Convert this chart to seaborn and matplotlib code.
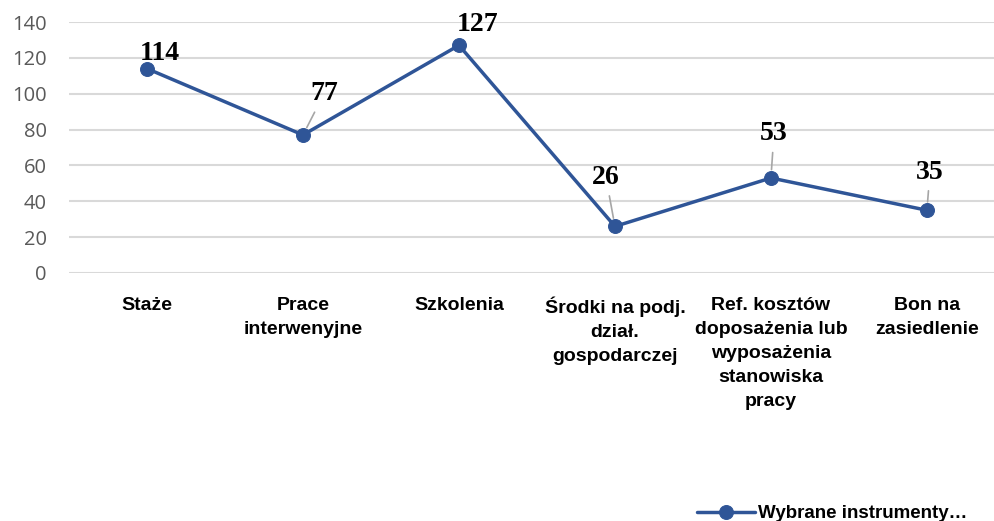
import matplotlib
matplotlib.use("Agg")
import matplotlib.pyplot as plt
import pandas as pd
import seaborn as sns

categories = [
    "Staże",
    "Prace\ninterwenyjne",
    "Szkolenia",
    "Środki na podj.\ndział.\ngospodarczej",
    "Ref. kosztów\ndoposażenia lub\nwyposażenia\nstanowiska\npracy",
    "Bon na\nzasiedlenie",
]
values = [114, 77, 127, 26, 53, 35]
series_name = "Wybrane instrumenty…"

# label offsets in pixels (dx, dy) and whether a leader line is drawn
label_offsets = [(13, 15), (21, 41), (19, 21), (-9, 49), (3, 44), (3, 38)]
leaders = [False, True, False, True, True, True]

line_color = "#2F5597"

sns.set_style("white")
plt.rcParams["font.family"] = ["Liberation Sans", "DejaVu Sans"]
plt.rcParams["text.color"] = "black"

df = pd.DataFrame({"x": range(len(categories)), "value": values, "series": series_name})

fig = plt.figure(figsize=(9.94, 5.21), dpi=100)
ax = fig.add_axes([69 / 994, 1 - 273 / 521, 1 - 69 / 994, (273 - 22) / 521])

sns.lineplot(data=df, x="x", y="value", hue="series", palette=[line_color],
             marker="o", markersize=10, linewidth=2.5, markeredgecolor=line_color,
             ax=ax, legend=True)

ax.set_ylim(0, 140)
ax.set_xlim(-0.5, 5.43)
ax.set_yticks(range(0, 141, 20))
ax.yaxis.grid(True, color="#d9d9d9", linewidth=1.5)
ax.set_axisbelow(True)
for s in ax.spines.values():
    s.set_visible(False)
ax.tick_params(axis="y", length=0, labelsize=14.5, labelcolor="#595959", pad=16)
ax.tick_params(axis="x", length=0, pad=17, labelcolor="black")
ax.set_xticks(range(len(categories)))
ax.set_xticklabels(categories, fontsize=14, fontweight="bold", va="top",
                   linespacing=1.55)
for lbl in ax.get_yticklabels():
    lbl.set_family(["Open Sans", "DejaVu Sans"])
ax.set_xlabel("")
ax.set_ylabel("")

for i, (v, (dx, dy), lead) in enumerate(zip(values, label_offsets, leaders)):
    arrow = dict(arrowstyle="-", color="#a6a6a6", lw=1.2, shrinkA=2, shrinkB=6) if lead else None
    ax.annotate(str(v), xy=(i, v), xytext=(dx, dy), textcoords="offset pixels",
                ha="center", va="center", fontsize=20, fontweight="bold", color="black",
                family=["Liberation Serif", "DejaVu Serif"], arrowprops=arrow)

handles, labels = ax.get_legend_handles_labels()
ax.legend(handles, labels, loc="lower right", bbox_to_anchor=(0.99, -0.035),
          bbox_transform=fig.transFigure, frameon=False, handlelength=3.1,
          prop={"weight": "bold", "size": 13.5}, handletextpad=0.15,
          labelcolor="black")

fig.savefig("out.png", dpi=100)
